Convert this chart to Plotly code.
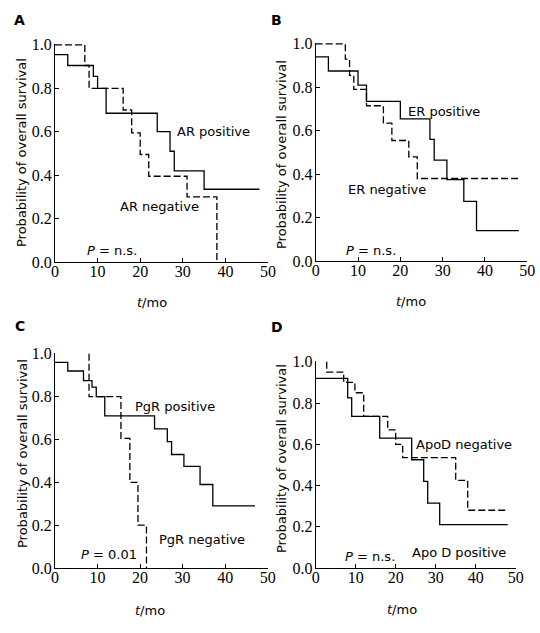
import plotly.graph_objects as go

# ---------------- data (Kaplan-Meier step points: time in months, survival probability) -------------
# Panel A: androgen receptor
a_pos_t = [0, 3, 9, 10, 12, 24, 27, 28, 35, 48]
a_pos_s = [0.955, 0.905, 0.855, 0.80, 0.685, 0.60, 0.51, 0.42, 0.335, 0.335]
a_neg_t = [0, 7, 8, 16, 18, 20, 22, 31, 38]
a_neg_s = [1.0, 0.905, 0.80, 0.70, 0.595, 0.495, 0.395, 0.30, 0.0]

# Panel B: estrogen receptor
b_pos_t = [0, 3, 10, 12, 20, 27, 28, 31, 35, 38, 48]
b_pos_s = [0.94, 0.875, 0.81, 0.735, 0.655, 0.56, 0.465, 0.375, 0.275, 0.14, 0.14]
b_neg_t = [0, 7, 8, 9, 12, 16, 18, 22, 24, 48]
b_neg_s = [1.0, 0.93, 0.855, 0.79, 0.715, 0.635, 0.555, 0.48, 0.38, 0.38]

# Panel C: progesterone receptor
c_pos_t = [0, 3, 6.7, 8.7, 9.7, 11.7, 23.4, 26.4, 27.4, 30.3, 34.1, 37.1, 47]
c_pos_s = [0.96, 0.92, 0.875, 0.845, 0.80, 0.71, 0.65, 0.59, 0.53, 0.475, 0.39, 0.29, 0.29]
c_neg_t = [8, 8, 15.5, 17.6, 19.5, 21.5]
c_neg_s = [1.0, 0.80, 0.605, 0.40, 0.20, 0.0]

# Panel D: apolipoprotein D
d_pos_t = [0, 8, 9, 16, 24, 27, 28, 31, 48]
d_pos_s = [0.92, 0.825, 0.735, 0.63, 0.525, 0.42, 0.315, 0.21, 0.21]
d_neg_t = [2.75, 2.75, 7, 9.8, 12, 18, 20, 21.75, 35, 38, 48]
d_neg_s = [1.0, 0.95, 0.90, 0.85, 0.735, 0.67, 0.60, 0.535, 0.425, 0.28, 0.28]

x_ticks = [0, 10, 20, 30, 40, 50]
y_ticks = [0.0, 0.2, 0.4, 0.6, 0.8, 1.0]
y_ticktext = ["0.0", "0.2", "0.4", "0.6", "0.8", "1.0"]

panels = [
    dict(letter="A", pos=(a_pos_t, a_pos_s), neg=(a_neg_t, a_neg_s),
         xdom=[55 / 540, 268 / 540], ydom=[1 - 262 / 633, 1 - 44 / 633],
         labels=[("AR positive", 28.1, 0.60), ("AR negative", 14.8, 0.255), ("<i>P</i> = n.s.", 7.0, 0.053)],
         letter_px=(19, 20), ytitle_px=(22, 153), xtitle_px=(152, 302)),
    dict(letter="B", pos=(b_pos_t, b_pos_s), neg=(b_neg_t, b_neg_s),
         xdom=[315.7 / 540, 527.3 / 540], ydom=[1 - 261 / 633, 1 - 43 / 633],
         labels=[("ER positive", 21.3, 0.69), ("ER negative", 7.2, 0.33), ("<i>P</i> = n.s.", 6.7, 0.047)],
         letter_px=(276, 20), ytitle_px=(281, 155), xtitle_px=(411, 301)),
    dict(letter="C", pos=(c_pos_t, c_pos_s), neg=(c_neg_t, c_neg_s),
         xdom=[55 / 540, 267.7 / 540], ydom=[1 - 568 / 633, 1 - 353 / 633],
         labels=[("PgR positive", 18.3, 0.755), ("PgR negative", 23.9, 0.135), ("<i>P</i> = 0.01", 5.7, 0.062)],
         letter_px=(20, 326), ytitle_px=(22, 454), xtitle_px=(150, 610)),
    dict(letter="D", pos=(d_pos_t, d_pos_s), neg=(d_neg_t, d_neg_s),
         xdom=[315.7 / 540, 515.7 / 540], ydom=[1 - 568 / 633, 1 - 361 / 633],
         labels=[("ApoD negative", 24.6, 0.60), ("Apo D positive", 23.6, 0.074), ("<i>P</i> = n.s.", 6.75, 0.058)],
         letter_px=(277, 327), ytitle_px=(281, 459), xtitle_px=(402, 609)),
]

W, H = 540, 633
serif = "Liberation Serif"
sans = "DejaVu Sans"
tick_font = dict(family=serif, size=16, color="black")

fig = go.Figure()
layout = dict(width=W, height=H, margin=dict(l=0, r=0, t=0, b=0, autoexpand=False),
              template="none", paper_bgcolor="white", plot_bgcolor="white", showlegend=False,
              font=dict(family=serif, size=16, color="black"))
annotations = []

for i, p in enumerate(panels):
    suf = "" if i == 0 else str(i + 1)
    xref, yref = "x" + suf, "y" + suf
    fig.add_trace(go.Scatter(x=p["pos"][0], y=p["pos"][1], mode="lines", line_shape="hv",
                             line=dict(color="black", width=1.3), xaxis=xref, yaxis=yref,
                             hoverinfo="skip"))
    fig.add_trace(go.Scatter(x=p["neg"][0], y=p["neg"][1], mode="lines", line_shape="hv",
                             line=dict(color="black", width=1.3, dash="7px,3px"), xaxis=xref, yaxis=yref,
                             hoverinfo="skip"))
    layout["xaxis" + suf] = dict(domain=p["xdom"], anchor=yref, range=[0, 50], tickvals=x_ticks,
                                 ticks="inside", ticklen=4, tickcolor="black", showline=True,
                                 linecolor="black", linewidth=1, showgrid=False, zeroline=False,
                                 automargin=False, tickfont=tick_font, ticklabelstandoff=-5)
    layout["yaxis" + suf] = dict(domain=p["ydom"], anchor=xref, range=[0, 1.004], tickvals=y_ticks,
                                 ticktext=y_ticktext, ticks="inside", ticklen=4, tickcolor="black",
                                 showline=True, linecolor="black", linewidth=1, showgrid=False,
                                 zeroline=False, automargin=False, tickfont=tick_font,
                                 ticklabelstandoff=-1)
    for text, tx, ty in p["labels"]:
        annotations.append(dict(text=text, x=tx, y=ty, xref=xref, yref=yref, xanchor="left",
                                yanchor="middle", showarrow=False,
                                font=dict(family=sans, size=13, color="black")))
    lx, ly = p["letter_px"]
    annotations.append(dict(text="<b>%s</b>" % p["letter"], x=lx / W, y=1 - ly / H, xref="paper",
                            yref="paper", xanchor="center", yanchor="middle", showarrow=False,
                            font=dict(family=sans, size=14, color="black")))
    tx, ty = p["ytitle_px"]
    annotations.append(dict(text="Probability of overall survival", x=tx / W, y=1 - ty / H,
                            xref="paper", yref="paper", xanchor="center", yanchor="middle",
                            textangle=-90, showarrow=False,
                            font=dict(family=sans, size=13, color="black")))
    tx, ty = p["xtitle_px"]
    annotations.append(dict(text="<i>t</i>/mo", x=tx / W, y=1 - ty / H, xref="paper", yref="paper",
                            xanchor="center", yanchor="middle", showarrow=False,
                            font=dict(family=sans, size=13, color="black")))

layout["annotations"] = annotations
fig.update_layout(**layout)
fig.write_html("out.html", config={"displayModeBar": False},
               post_script="document.body.style.margin='0';document.body.style.overflow='hidden';")
